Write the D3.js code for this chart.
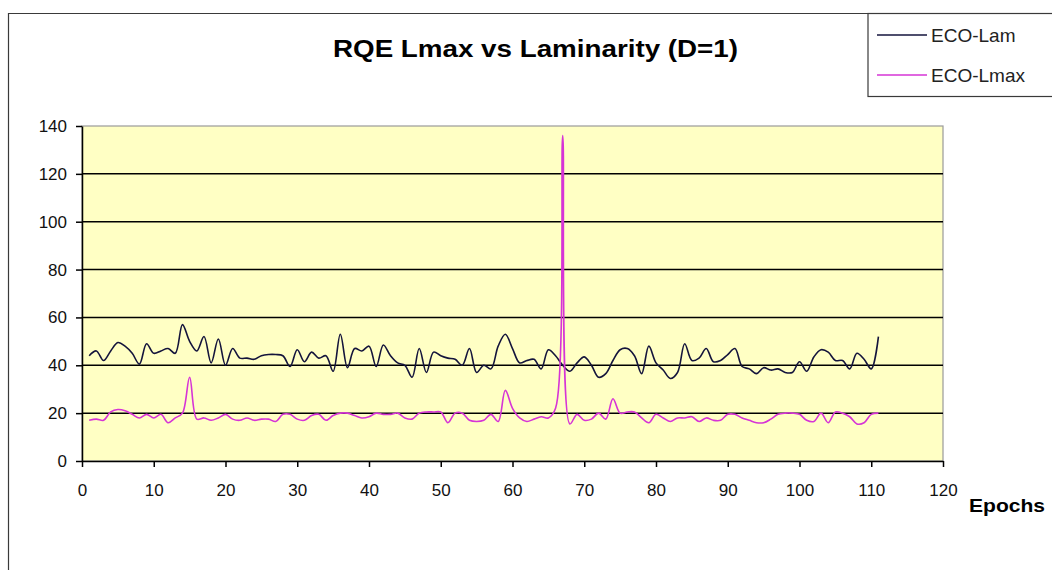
<!DOCTYPE html>
<html>
<head>
<meta charset="utf-8">
<script src="https://cdn.jsdelivr.net/npm/d3@7/dist/d3.min.js"></script>
<style>
  html, body { margin: 0; padding: 0; background: #ffffff; }
  svg { display: block; font-family: "Liberation Sans", Arial, sans-serif; }
</style>
</head>
<body>
<svg id="chart" width="1052" height="570"></svg>
<script>
// Epoch numbers 1..111
const epochs = [
  1,2,3,4,5,6,7,8,9,10,11,12,13,14,15,16,17,18,19,20,
  21,22,23,24,25,26,27,28,29,30,31,32,33,34,35,36,37,38,39,40,
  41,42,43,44,45,46,47,48,49,50,51,52,53,54,55,56,57,58,59,60,
  61,62,63,64,65,66,67,68,69,70,71,72,73,74,75,76,77,78,79,80,
  81,82,83,84,85,86,87,88,89,90,91,92,93,94,95,96,97,98,99,100,
  101,102,103,104,105,106,107,108,109,110,111
];

// Laminarity per epoch
const ecoLam = [
  44,46,42,46,49.5,48,45,40.5,49,45,46,47,45,57,50,46,52,41,51,40,
  47,43,43,42.5,44,44.5,44.5,44,39.5,46.5,41.5,45.5,43,44,37.5,53,39,47,46,48,
  39.5,48.5,44,41,40,35,47,37,45.5,44,43,42.5,40,47,37,40,38.5,48,53,47,
  41,42,42.5,38.5,46.5,44,40,37.5,41,43.5,40,35,36.5,42,46.5,47,44,36.5,48,41,
  38,34.5,37,49,42,43,47,41.5,42,44.5,47,39.5,38.5,36.5,39,38,38.5,37,37,41.5,
  37.5,43.5,46.5,45.5,42,42,38.5,45,42.5,38.5,52
];

// Longest line (Lmax) per epoch
const ecoLmax = [
  17,17.5,17,20.5,21.5,21,19.5,18,19.5,18,19.5,16,18,20,35,17.5,18,17,18,19.5,
  17.5,17,18,17,17.5,17.5,16.5,19.5,19.5,17.5,17,19,19.5,17,19,20,20,19,18,18.5,
  20,19.5,19.5,20,18,17.5,20,20.5,20.5,20.5,16,20,20,17,16.5,17,19.5,16.5,29.5,22,
  18,16.5,17.5,18.5,18,22,136,15.5,19.5,17,17.5,20,17.5,26,20,20.5,20.5,18,16,19.5,
  18,16.5,18,18,18.5,16.5,18,17,17,19.5,19.5,18,17,16,16,17.5,19.5,20,20,19.5,
  17,16.5,20,16,20.5,20,18.5,15.5,16,19.5,20
];

const seriesNames = ["ECO-Lam", "ECO-Lmax"];
const seriesColors = ["#14143c", "#d634d6"];
const xTicks = [0,10,20,30,40,50,60,70,80,90,100,110,120];
const yTicks = [0,20,40,60,80,100,120,140];
const titleText = "RQE Lmax vs Laminarity (D=1)";
const xAxisTitle = "Epochs";

const svg = d3.select("#chart");

const plot = { left: 82, right: 943, top: 126, bottom: 461 };

const x = d3.scaleLinear().domain([0, 120]).range([plot.left, plot.right]);
const y = d3.scaleLinear().domain([0, 140]).range([plot.bottom, plot.top]);

// Outer chart frame (top and left edges visible)
svg.append("path")
  .attr("d", `M8.5,570 L8.5,13.5 L868,13.5`)
  .attr("fill", "none")
  .attr("stroke", "#3a3a3a")
  .attr("stroke-width", 1.2);

// Plot area background
svg.append("rect")
  .attr("x", plot.left).attr("y", plot.top)
  .attr("width", plot.right - plot.left)
  .attr("height", plot.bottom - plot.top)
  .attr("fill", "#ffffc4")
  .attr("stroke", "#9a9a9a")
  .attr("stroke-width", 1.2);

// Horizontal gridlines
svg.append("g")
  .selectAll("line")
  .data(yTicks.filter(d => d > 0 && d < 140))
  .join("line")
  .attr("x1", plot.left).attr("x2", plot.right)
  .attr("y1", d => y(d)).attr("y2", d => y(d))
  .attr("stroke", "#000")
  .attr("stroke-width", 1.5);

// Y axis
const yAxis = svg.append("g")
  .attr("transform", `translate(${plot.left},0)`)
  .call(d3.axisLeft(y).tickValues(yTicks).tickSize(6).tickSizeOuter(0).tickPadding(9));
yAxis.select(".domain").attr("stroke", "#000").attr("stroke-width", 1.5);
yAxis.selectAll(".tick line").attr("stroke", "#000").attr("stroke-width", 1.5);
yAxis.selectAll(".tick text")
  .attr("fill", "#111")
  .style("font-size", "17px")
  .style("font-family", "'Liberation Sans', Arial, sans-serif");

// X axis
const xAxis = svg.append("g")
  .attr("transform", `translate(0,${plot.bottom})`)
  .call(d3.axisBottom(x).tickValues(xTicks).tickSize(6).tickSizeOuter(0).tickPadding(17));
xAxis.select(".domain").attr("stroke", "#000").attr("stroke-width", 1.5);
xAxis.selectAll(".tick line").attr("stroke", "#000").attr("stroke-width", 1.5);
xAxis.selectAll(".tick text")
  .attr("fill", "#111")
  .style("font-size", "17px")
  .style("font-family", "'Liberation Sans', Arial, sans-serif");

// Series lines (smoothed)
const series = [ecoLam, ecoLmax];
const line = d3.line()
  .x(d => x(d[0]))
  .y(d => y(d[1]))
  .curve(d3.curveCatmullRom.alpha(0.5));

series.forEach((vals, i) => {
  svg.append("path")
    .datum(epochs.map((e, k) => [e, vals[k]]))
    .attr("fill", "none")
    .attr("stroke", seriesColors[i])
    .attr("stroke-width", 1.6)
    .attr("stroke-linejoin", "round")
    .attr("d", line);
});

// Title
svg.append("text")
  .attr("x", 333).attr("y", 57)
  .attr("textLength", 405)
  .attr("lengthAdjust", "spacingAndGlyphs")
  .style("font-size", "23px")
  .style("font-weight", "bold")
  .attr("fill", "#000")
  .text(titleText);

// X axis title
svg.append("text")
  .attr("x", 969).attr("y", 512)
  .attr("textLength", 76)
  .attr("lengthAdjust", "spacingAndGlyphs")
  .style("font-size", "18px")
  .style("font-weight", "bold")
  .attr("fill", "#000")
  .text(xAxisTitle);

// Legend
const legend = svg.append("g");
legend.append("rect")
  .attr("x", 868).attr("y", 13.5)
  .attr("width", 200).attr("height", 83)
  .attr("fill", "#fff")
  .attr("stroke", "#3a3a3a")
  .attr("stroke-width", 1.2);

seriesNames.forEach((name, i) => {
  const ly = 35 + i * 40;
  legend.append("line")
    .attr("x1", 877).attr("x2", 927)
    .attr("y1", ly).attr("y2", ly)
    .attr("stroke", seriesColors[i])
    .attr("stroke-width", 1.6);
  legend.append("text")
    .attr("x", 931).attr("y", ly + 7)
    .style("font-size", "19px")
    .attr("fill", "#222")
    .text(name);
});
</script>
</body>
</html>
